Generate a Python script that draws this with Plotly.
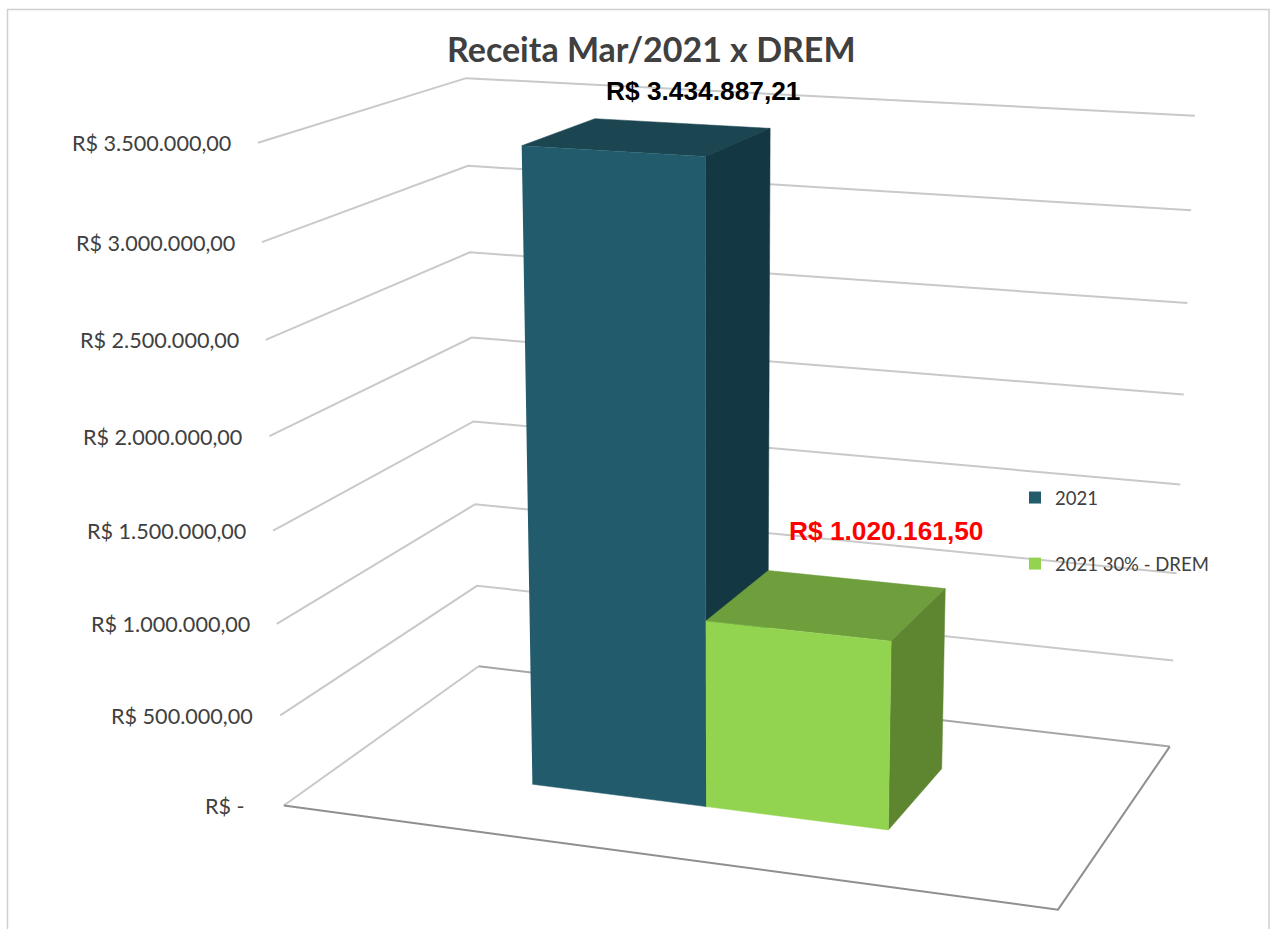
import numpy as np
import plotly.graph_objects as go

# ---- data ----
series_names = ["2021", "2021 30% - DREM"]
series_values = [3434887.21, 1020161.50]
value_labels = ["R$ 3.434.887,21", "R$ 1.020.161,50"]
tick_values = [0, 500000, 1000000, 1500000, 2000000, 2500000, 3000000, 3500000]
tick_labels = ["R$ -", "R$ 500.000,00", "R$ 1.000.000,00", "R$ 1.500.000,00",
               "R$ 2.000.000,00", "R$ 2.500.000,00", "R$ 3.000.000,00", "R$ 3.500.000,00"]
chart_title = "Receita Mar/2021 x DREM"

# ---- 3D perspective: Excel's narrow-angle camera, fitted to the box corners ----
Z_MAX = 3500000.0
LEFT_FRONT_PX = [(284, 805), (280, 716), (276, 625), (273, 531), (270, 436), (266, 340), (262, 241), (258, 143)]
LEFT_BACK_PX = [(479, 666), (477, 586), (475, 504), (473, 421), (472, 337), (470, 252), (468, 166), (466, 79)]
RIGHT_BACK_PX = [(1170, 746), (1173, 661), (1177, 574), (1180, 485), (1184, 395), (1187, 303), (1191, 210), (1195, 115)]
FRONT_RIGHT_FLOOR_PX = (1058, 909)

rows = []
def add_cal(u, v, w, px, py):
    rows.append([u, v, w, 1, 0, 0, 0, 0, -px * u, -px * v, -px * w, -px])
    rows.append([0, 0, 0, 0, u, v, w, 1, -py * u, -py * v, -py * w, -py])
for i, t in enumerate(tick_values):
    w = t / Z_MAX
    add_cal(0, 0, w, *LEFT_FRONT_PX[i])
    add_cal(0, 1, w, *LEFT_BACK_PX[i])
    add_cal(1, 1, w, *RIGHT_BACK_PX[i])
add_cal(1, 0, 0, *FRONT_RIGHT_FLOOR_PX)
A = np.array(rows, dtype=float)
_, _, Vt = np.linalg.svd(A / np.maximum(np.abs(A).max(axis=0), 1e-9), full_matrices=False)
sol = Vt[-1] / np.maximum(np.abs(A).max(axis=0), 1e-9)
P = sol.reshape(3, 4)

def project(u, v, value):
    h = P @ np.array([u, v, value / Z_MAX, 1.0])
    return float(h[0] / h[2]), float(h[1] / h[2])

def path(points):
    pts = [project(*p) for p in points]
    return [p[0] for p in pts], [p[1] for p in pts]

fig = go.Figure()

def line(points, color, width):
    x, y = path(points)
    fig.add_trace(go.Scatter(x=x, y=y, mode="lines", line=dict(color=color, width=width),
                             hoverinfo="skip", showlegend=False))

def face(points, color):
    x, y = path(points)
    fig.add_trace(go.Scatter(x=x, y=y, mode="lines", fill="toself", fillcolor=color,
                             line=dict(color=color, width=0.5), hoverinfo="skip", showlegend=False))

# walls
GRID = "#c9c9c9"
for t in tick_values[1:]:
    line([(0, 0, t), (0, 1, t), (1, 1, t)], GRID, 2)
# floor
line([(0, 0, 0), (0, 1, 0)], GRID, 2)
line([(0, 1, 0), (1, 1, 0)], "#a6a6a6", 2)
line([(0, 0, 0), (1, 0, 0), (1, 1, 0), ], "#8f8f8f", 2)

# bars
U_EDGES = [0.2634, 0.5005, 0.7400]
V0, V1 = 0.297, 0.690
FRONT = ["#225b6b", "#92d350"]
TOP = ["#1b4550", "#6f9e3c"]
SIDE = ["#143843", "#5e8630"]
for i, val in enumerate(series_values):
    u0, u1 = U_EDGES[i], U_EDGES[i + 1]
    face([(u0, V0, val), (u0, V1, val), (u1, V1, val), (u1, V0, val)], TOP[i])
    face([(u1, V0, 0), (u1, V1, 0), (u1, V1, val), (u1, V0, val)], SIDE[i])
    face([(u0, V0, 0), (u1, V0, 0), (u1, V0, val), (u0, V0, val)], FRONT[i])

# legend
for name, color, in zip(series_names, FRONT):
    fig.add_trace(go.Scatter(x=[None], y=[None], mode="markers", name=name, legendgroup=name,
                             marker=dict(symbol="square", size=12, color=color)))

TXT = "#404040"
annotations = []
annotations.append(dict(x=651, y=48, xref="x", yref="y", text="<b>%s</b>" % chart_title, showarrow=False,
                        font=dict(family="Lato", size=34, color=TXT)))
for t, lab in zip(tick_values, tick_labels):
    x, y = project(0, 0, t)
    gap = 37 if t == 0 else 25
    annotations.append(dict(x=x - gap, y=y + 0.5, xref="x", yref="y", text=lab, showarrow=False, xanchor="right",
                            font=dict(family="Lato", size=21.6, color=TXT)))
LABEL_COLORS = ["#000000", "#ff0000"]
LABEL_SHIFTS = [(55, -46), (58.5, -74)]
for i, val in enumerate(series_values):
    x, y = project((U_EDGES[i] + U_EDGES[i + 1]) / 2, (V0 + V1) / 2, val)
    annotations.append(dict(x=x + LABEL_SHIFTS[i][0], y=y + LABEL_SHIFTS[i][1], xref="x", yref="y",
                            text="<b>%s</b>" % value_labels[i], showarrow=False,
                            font=dict(family="Liberation Sans", size=26.3, color=LABEL_COLORS[i])))

fig.update_layout(
    width=1271, height=929, margin=dict(l=0, r=0, t=0, b=0),
    paper_bgcolor="white", plot_bgcolor="white",
    xaxis=dict(range=[0, 1271], visible=False, fixedrange=True),
    yaxis=dict(range=[929, 0], visible=False, fixedrange=True),
    annotations=annotations,
    shapes=[dict(type="rect", xref="x", yref="y", x0=7.5, x1=1269, y0=9.5, y1=950,
                 line=dict(color="#d0d0d0", width=1.5), layer="below")],
    legend=dict(x=1015 / 1271, y=1 - 479 / 929, xanchor="left", yanchor="top", xref="paper", yref="paper",
                bgcolor="rgba(0,0,0,0)", tracegroupgap=39,
                font=dict(family="Lato", size=18.5, color=TXT), itemwidth=30),
)
fig.write_html("out.html", post_script="document.body.style.margin='0';",
               config=dict(displayModeBar=False))
